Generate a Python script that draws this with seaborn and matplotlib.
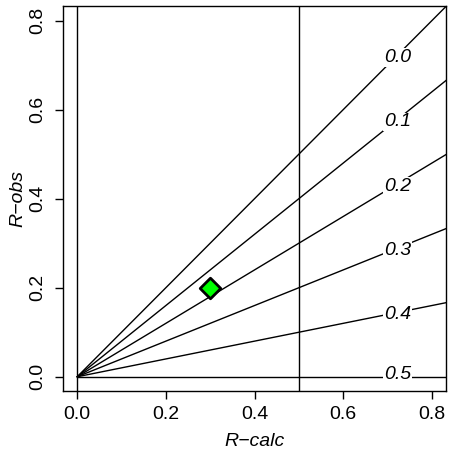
import matplotlib
matplotlib.use("Agg")
import matplotlib.pyplot as plt
import matplotlib.transforms as mtransforms
import seaborn as sns
import pandas as pd
import numpy as np

# Data
line_labels = ["0.0", "0.1", "0.2", "0.3", "0.4", "0.5"]
line_params = [0.0, 0.1, 0.2, 0.3, 0.4, 0.5]
label_y_shift = [0.0, 0.0, 0.0, 0.0, 0.0, 0.011]
vertical_x = [0.0, 0.5]
point_rcalc = [0.3]
point_robs = [0.2]
ticks = [0.0, 0.2, 0.4, 0.6, 0.8]
tick_labels = ["0.0", "0.2", "0.4", "0.6", "0.8"]
label_x = 0.723

sns.set_style("ticks")
plt.rcParams['font.family'] = ['Liberation Sans', 'DejaVu Sans']
plt.rcParams['text.color'] = 'black'
plt.rcParams['axes.labelcolor'] = 'black'

FS = 14

fig = plt.figure(figsize=(4.49, 4.57), dpi=100)
ax = fig.add_axes([63/449, (457-391)/457, 383/449, 385/457])

rows = []
for lab, k in zip(line_labels, line_params):
    slope = 1 - 2 * k
    for x in (0.0, 1.0):
        rows.append({"lab": lab, "x": x, "y": slope * x})
df = pd.DataFrame(rows)
for lab, g in df.groupby("lab"):
    sns.lineplot(data=g, x="x", y="y", ax=ax, color="black", lw=1.0,
                 estimator=None, sort=False, legend=False)

for vx in vertical_x:
    ax.axvline(vx, color="black", lw=1.0)

# baseline shifted down by half the cap height so digits' ink is centred
text_tr = mtransforms.offset_copy(ax.transData, fig=fig, x=0, y=-0.36 * FS,
                                  units="points")
for lab, k, dy in zip(line_labels, line_params, label_y_shift):
    slope = 1 - 2 * k
    ax.text(label_x, slope * label_x + dy, lab, fontsize=FS, style="italic",
            ha="center", va="baseline", color="black", transform=text_tr,
            bbox=dict(facecolor="white", edgecolor="none", pad=0.5), zorder=5)

pt = pd.DataFrame({"R-calc": point_rcalc, "R-obs": point_robs})
sns.scatterplot(data=pt, x="R-calc", y="R-obs", ax=ax, marker="D", s=110,
                color="#00ff00", edgecolor="black", linewidth=2, zorder=6)

ax.set_xlim(-0.032, 0.832)
ax.set_ylim(-0.032, 0.833)
ax.set_xticks(ticks)
ax.set_xticklabels(tick_labels)
ax.set_yticks(ticks)
ax.set_yticklabels(tick_labels, rotation=90, va="center")
ax.tick_params(axis="x", direction="out", length=6, width=1, labelsize=FS,
               color="black", labelcolor="black", pad=5)
ax.tick_params(axis="y", direction="out", length=6, width=1, labelsize=FS,
               color="black", labelcolor="black", pad=6)
for s in ax.spines.values():
    s.set_visible(True)
    s.set_color("black")
    s.set_linewidth(1.0)
ax.set_xlabel("R\u2212calc", fontsize=FS, style="italic", labelpad=7, color="black")
ax.set_ylabel("R\u2212obs", fontsize=FS, style="italic", labelpad=2, color="black")

fig.savefig("out.png", dpi=100)
